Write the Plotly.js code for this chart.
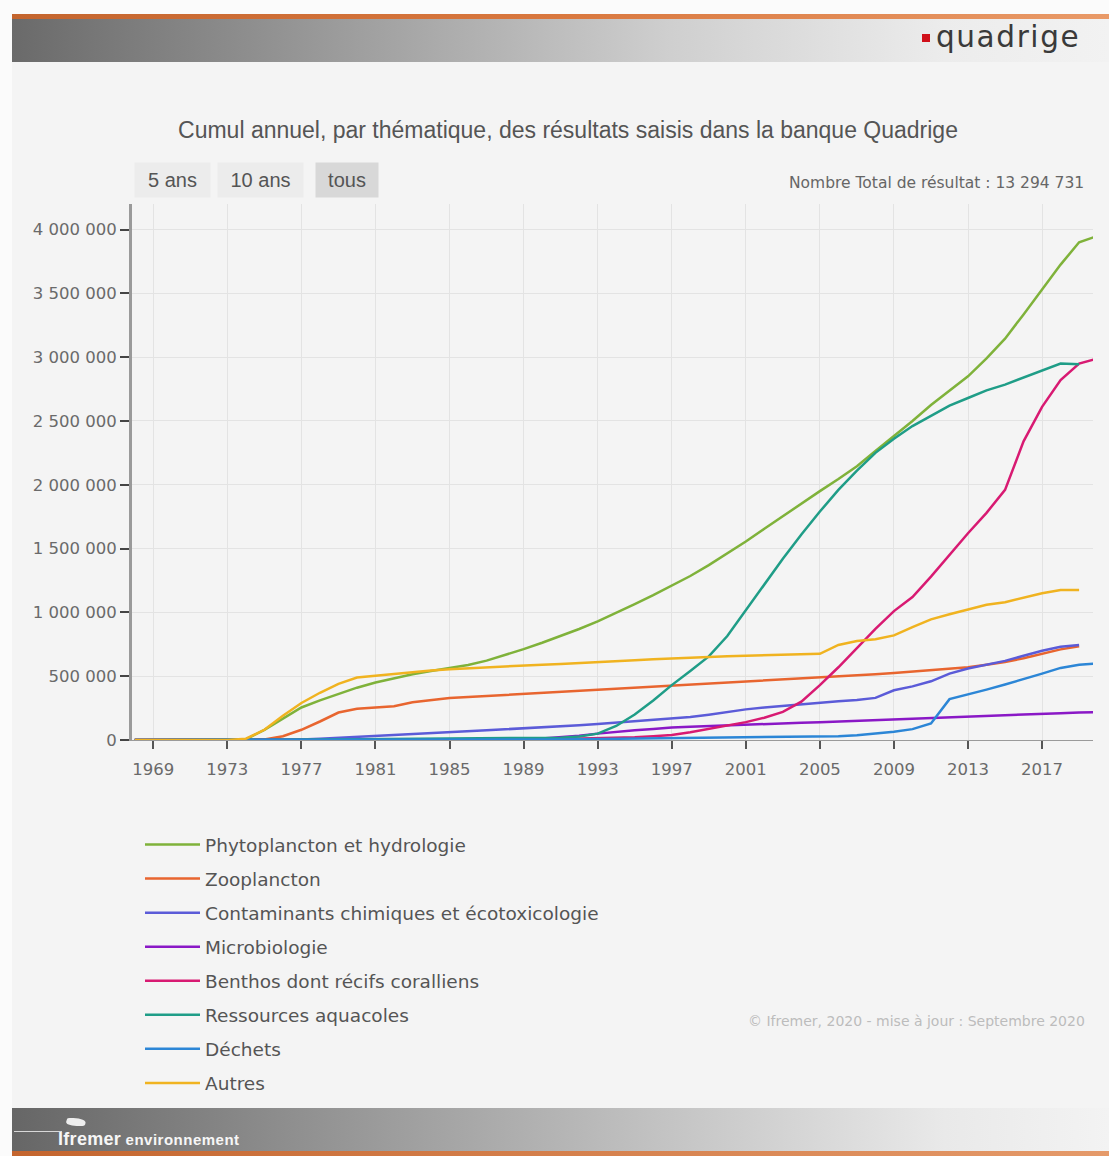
<!DOCTYPE html>
<html>
<head>
<meta charset="utf-8">
<script src="https://cdn.plot.ly/plotly-3.0.1.min.js"></script>
<style>
  html, body { margin:0; padding:0; width:1109px; height:1156px; overflow:hidden; background:#fbfbfb; }
  .abs { position:absolute; }
  #page { left:12px; top:62px; width:1097px; height:1046px; background:#f4f4f4; }
  #topline { left:12px; top:14px; width:1097px; height:5px; background:linear-gradient(to right,#c4652e,#d9783f 50%,#e99a68); }
  #header { left:12px; top:19px; width:1097px; height:43px; background:linear-gradient(to right,#6a6a6a 0%,#9c9c9c 30%,#cfcfcf 60%,#ececec 85%,#f2f2f2 100%); }
  #qsq { left:922px; top:34px; width:8px; height:8px; background:#d0101a; }
  #qtxt { left:936px; top:17px; font-family:"DejaVu Sans"; font-size:29.5px; letter-spacing:1.6px; color:#3a3a3a; line-height:40px; }
  #footer { left:12px; top:1108px; width:1097px; height:43px; background:linear-gradient(to right,#666 0%,#8e8e8e 25%,#c4c4c4 60%,#e9e9e9 85%,#f3f3f3 100%); }
  #botline { left:12px; top:1151px; width:1097px; height:5px; background:linear-gradient(to right,#c4652e,#e59a6a); }
  #ftxt { left:58px; top:1128px; color:#f6f6f6; font-family:"Liberation Sans"; line-height:22px; white-space:nowrap; }
  #ftxt .a { font-size:18px; font-weight:bold; letter-spacing:0.3px; }
  #ftxt .b { font-size:15px; font-weight:bold; letter-spacing:0.5px; }
  #fline { left:14px; top:1131px; width:48px; height:1px; background:#d8d8d8; }
  #flogo { left:66px; top:1118px; width:20px; height:8px; background:#eeeeee; border-radius:10% 70% 20% 60%; transform:skewX(-20deg); }
  #chart { left:0; top:0; width:1109px; height:1156px; z-index:5; }
</style>
</head>
<body>
<div id="page" class="abs"></div>
<div id="topline" class="abs"></div>
<div id="header" class="abs"></div>
<div id="qsq" class="abs"></div>
<div id="qtxt" class="abs">quadrige</div>
<div id="footer" class="abs"></div>
<div id="botline" class="abs"></div>
<div id="fline" class="abs"></div>
<div id="flogo" class="abs"></div>
<div id="ftxt" class="abs"><span class="a">Ifremer</span> <span class="b">environnement</span></div>
<div id="chart" class="abs"></div>
<script>
const years = [1968,1969,1970,1971,1972,1973,1974,1975,1976,1977,1978,1979,1980,1981,1982,1983,1984,1985,1986,1987,1988,1989,1990,1991,1992,1993,1994,1995,1996,1997,1998,1999,2000,2001,2002,2003,2004,2005,2006,2007,2008,2009,2010,2011,2012,2013,2014,2015,2016,2017,2018,2019,2020];

const phytoplancton = [0,0,0,0,0,0,5000,80000,170000,255000,310000,360000,410000,450000,485000,515000,540000,562000,588000,622000,665000,712000,762000,815000,870000,930000,995000,1065000,1135000,1210000,1285000,1370000,1460000,1555000,1655000,1755000,1855000,1950000,2045000,2145000,2265000,2380000,2500000,2625000,2740000,2850000,2990000,3145000,3335000,3535000,3725000,3900000,3950000];

const zooplancton = [0,0,0,0,0,0,0,5000,30000,80000,145000,215000,245000,255000,265000,295000,315000,330000,337000,345000,352000,360000,367000,375000,382000,390000,398000,407000,415000,425000,433000,441000,449000,457000,465000,472000,479000,487000,496000,505000,515000,525000,535000,546000,557000,570000,590000,612000,640000,678000,710000,735000,null];

const contaminants = [0,0,0,0,0,0,0,0,0,3000,10000,18000,26000,34000,42000,50000,57000,64000,70000,77000,84000,91000,98000,106000,115000,125000,135000,145000,155000,166000,180000,198000,220000,240000,255000,268000,280000,292000,303000,314000,330000,390000,420000,460000,520000,560000,590000,620000,660000,700000,730000,745000,null];

const microbiologie = [0,0,0,0,0,0,0,0,0,0,0,0,0,0,0,0,0,0,0,0,2000,5000,12000,20000,33000,50000,64000,76000,86000,98000,104000,110000,115000,120000,125000,130000,135000,140000,145000,150000,155000,160000,165000,171000,178000,184000,190000,195000,200000,205000,210000,215000,218000];

const benthos = [0,0,0,0,0,0,0,0,0,0,0,0,0,0,0,0,0,0,0,0,2000,3000,5000,7000,10000,13000,17000,22000,30000,40000,60000,85000,110000,140000,175000,220000,300000,430000,570000,720000,870000,1010000,1120000,1280000,1450000,1620000,1780000,1960000,2340000,2610000,2820000,2950000,2990000];

const ressourcesAquacoles = [0,0,0,0,0,0,0,0,0,3000,4000,5000,6000,7000,8000,8000,9000,9000,10000,10000,11000,12000,14000,18000,28000,50000,110000,200000,310000,430000,540000,655000,815000,1020000,1220000,1420000,1610000,1790000,1960000,2110000,2250000,2360000,2460000,2540000,2620000,2680000,2740000,2785000,2840000,2890000,2950000,2945000,null];

const dechets = [0,0,0,0,0,0,0,0,0,0,0,0,0,0,0,0,0,0,0,0,0,0,2000,4000,6000,8000,10000,12000,13000,15000,16000,18000,19000,20000,21000,22000,24000,26000,30000,38000,50000,65000,85000,130000,320000,355000,395000,435000,475000,520000,565000,590000,600000];

const autres = [0,0,0,0,0,0,10000,80000,190000,290000,370000,440000,490000,505000,515000,530000,545000,555000,563000,570000,577000,584000,590000,596000,602000,608000,616000,624000,632000,640000,646000,651000,656000,660000,664000,667000,670000,675000,745000,775000,790000,820000,885000,945000,985000,1025000,1060000,1080000,1115000,1150000,1175000,1175000,null];

const seriesNames = ["Phytoplancton et hydrologie","Zooplancton","Contaminants chimiques et écotoxicologie","Microbiologie","Benthos dont récifs coralliens","Ressources aquacoles","Déchets","Autres"];
const seriesValues = [phytoplancton, zooplancton, contaminants, microbiologie, benthos, ressourcesAquacoles, dechets, autres];
const seriesColors = ["#7fb23a","#e8652f","#5b5bd8","#8a18c6","#d81a72","#1f9d87","#2c86d6","#f0b320"];

const xTickStart = 1969, xTickStep = 4;
const yTickStep = 500000;
const rangeButtons = ["5 ans","10 ans","tous"];
const totalText = "Nombre Total de résultat : 13 294 731";
const creditText = "© Ifremer, 2020 - mise à jour : Septembre 2020";
const titleText = "Cumul annuel, par thématique, des résultats saisis dans la banque Quadrige";

const traces = seriesNames.map((n, i) => ({
  type: "scatter",
  mode: "lines",
  name: n,
  x: years,
  y: seriesValues[i],
  line: { color: seriesColors[i], width: 2.5 },
  legendgroup: "g" + i,
  connectgaps: false,
  hovertemplate: "%{x}: %{y:,d}<extra>" + n + "</extra>"
}));

// pixel -> paper helpers for the decorative annotations
const L = 132, R = 1093, T = 204, B = 740;
const px = v => (v - L) / (R - L);
const py = v => (B - v) / (B - T);

const tickFont = { family: "DejaVu Sans", size: 16.5, color: "#6a6a6a" };

const btnX = [172.5, 260.5, 347];
const btnW = [63, 73, 50];
const btnBg = ["#ececec", "#ececec", "#d8d8d8"];
const annotations = rangeButtons.map((b, i) => ({
  text: b, xref: "paper", yref: "paper", x: px(btnX[i]), y: py(180),
  xanchor: "center", yanchor: "middle", showarrow: false,
  font: { family: "Liberation Sans", size: 20, color: "#555" },
  bgcolor: btnBg[i], borderpad: 6, width: btnW[i], height: 22
}));
annotations.push({
  text: totalText, xref: "paper", yref: "paper", x: px(1086), y: py(183),
  xanchor: "right", yanchor: "middle", showarrow: false,
  font: { family: "DejaVu Sans", size: 15.5, color: "#666" }
});
annotations.push({
  text: creditText, xref: "paper", yref: "paper", x: px(1087), y: py(1021),
  xanchor: "right", yanchor: "middle", showarrow: false,
  font: { family: "DejaVu Sans", size: 14, color: "#bcbcbc" }
});

const layout = {
  width: 1109, height: 1156,
  margin: { l: L, r: 1109 - R, t: T, b: 1156 - B, pad: 0, autoexpand: false },
  paper_bgcolor: "rgba(0,0,0,0)",
  plot_bgcolor: "rgba(0,0,0,0)",
  separators: ", ",
  title: {
    text: titleText, xref: "container", yref: "container",
    x: 568 / 1109, y: 1 - 130 / 1156, xanchor: "center", yanchor: "middle",
    font: { family: "Liberation Sans", size: 23, color: "#555" }
  },
  showlegend: true,
  legend: {
    orientation: "v", xref: "container", yref: "container",
    x: 140 / 1109, y: 1 - 826 / 1156, xanchor: "left", yanchor: "top",
    font: { family: "DejaVu Sans", size: 18.5, color: "#555" },
    tracegroupgap: 7, itemwidth: 55, bgcolor: "rgba(0,0,0,0)", traceorder: "grouped"
  },
  xaxis: {
    range: [1967.85, 2019.75], tickmode: "linear", tick0: xTickStart, dtick: xTickStep,
    tickangle: 0, ticklabelstandoff: 6,
    showgrid: true, gridcolor: "#e3e3e3", gridwidth: 1,
    showline: true, linecolor: "#9a9a9a", linewidth: 1,
    ticks: "outside", ticklen: 8, tickwidth: 2, tickcolor: "#555",
    tickfont: tickFont, zeroline: false, fixedrange: true
  },
  yaxis: {
    range: [0, 4200000], tickmode: "linear", tick0: 0, dtick: yTickStep, tickformat: ",d",
    showgrid: true, gridcolor: "#e3e3e3", gridwidth: 1,
    showline: true, linecolor: "#9a9a9a", linewidth: 3,
    ticks: "outside", ticklen: 9, tickwidth: 2, tickcolor: "#444",
    tickfont: tickFont, zeroline: false, fixedrange: true
  },
  annotations: annotations,
  hovermode: "x"
};

Plotly.newPlot("chart", traces, layout, { displayModeBar: false, responsive: false });
</script>
</body>
</html>
